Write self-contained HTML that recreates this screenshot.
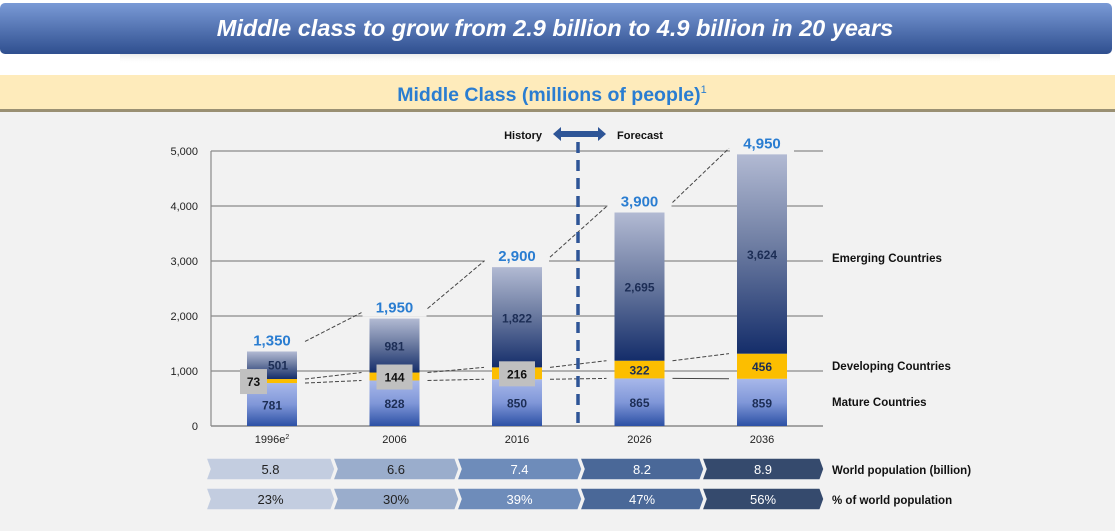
<!DOCTYPE html>
<html><head><meta charset="utf-8"><style>
body{margin:0;width:1115px;height:531px;overflow:hidden;background:#fff;font-family:"Liberation Sans",Arial,sans-serif}
svg{display:block}
</style></head><body>
<svg id="chart" width="1115" height="531" xmlns="http://www.w3.org/2000/svg">
<defs>
<linearGradient id="gTitle" x1="0" y1="0" x2="0" y2="1"><stop offset="0" stop-color="#7a9ad6"/><stop offset="1" stop-color="#2f4f8f"/></linearGradient>
<linearGradient id="gEm" x1="0" y1="0" x2="0" y2="1"><stop offset="0" stop-color="#b2bad3"/><stop offset="0.45" stop-color="#6f7ea3"/><stop offset="1" stop-color="#142d6a"/></linearGradient>
<linearGradient id="gMat" x1="0" y1="0" x2="0" y2="1"><stop offset="0" stop-color="#a8b8ea"/><stop offset="0.5" stop-color="#8097d8"/><stop offset="1" stop-color="#2c50a5"/></linearGradient>
<linearGradient id="gShadow" x1="0" y1="0" x2="0" y2="1"><stop offset="0" stop-color="#eaeaea"/><stop offset="1" stop-color="#fff" stop-opacity="0"/></linearGradient>
</defs>
<rect x="0" y="0" width="1115" height="531" fill="#fff"/>
<rect x="120" y="54" width="880" height="10" fill="url(#gShadow)"/>
<rect x="0" y="3" width="1112" height="51" rx="5" fill="url(#gTitle)"/>
<text x="555" y="36" text-anchor="middle" fill="#fff" font-size="23.5" font-weight="bold" font-style="italic">Middle class to grow from 2.9 billion to 4.9 billion in 20 years</text>
<rect x="0" y="75" width="1115" height="35" fill="#feebbb"/>
<rect x="0" y="109" width="1115" height="3" fill="#9a9073"/>
<text x="552" y="101" text-anchor="middle" fill="#2a7dd1" font-size="19.5" font-weight="bold">Middle Class (millions of people)<tspan font-size="11" dy="-8" font-weight="normal">1</tspan></text>
<rect x="0" y="112" width="1115" height="419" fill="#f2f2f2"/>
<g id="plot"></g>
</svg>
<script>
const years=['1996e','2006','2016','2026','2036'];
const mature=[781,828,850,865,859];
const developing=[73,144,216,322,456];
const emerging=[501,981,1822,2695,3624];
const totals=['1,350','1,950','2,900','3,900','4,950'];
const emergingLbl=['501','981','1,822','2,695','3,624'];
const yTicks=[0,1000,2000,3000,4000,5000];
const yTickLbl=['0','1,000','2,000','3,000','4,000','5,000'];
const worldPop=['5.8','6.6','7.4','8.2','8.9'];
const pctWorld=['23%','30%','39%','47%','56%'];

const NS='http://www.w3.org/2000/svg';
const g=document.getElementById('plot');
function mk(t,a,txt){const e=document.createElementNS(NS,t);for(const k in a)e.setAttribute(k,a[k]);if(txt!==undefined)e.textContent=txt;g.appendChild(e);return e;}
const x0=211,x1=823,y0=426,yPer=55/1000;
const y=v=>y0-v*yPer;
const bx=i=>247+i*122.5, bw=50;

yTicks.forEach((t,i)=>{
 if(t>0){const l=mk('line',{x1:x0,x2:x1,y1:y(t),y2:y(t),stroke:'#8a8a8a','stroke-width':1.2});
 }
 const tx=mk('text',{x:198,y:y(t)+4,'text-anchor':'end','font-size':11,fill:'#222'},yTickLbl[i]);
 
});
mk('line',{x1:x0,x2:x0,y1:y(5000),y2:y0,stroke:'#8a8a8a','stroke-width':1.2});
mk('line',{x1:x0,x2:x1,y1:y0,y2:y0,stroke:'#8a8a8a','stroke-width':1.5});

years.forEach((yr,i)=>{
 const X=bx(i);
 const m=mature[i],d=developing[i],e=emerging[i];
 let r=mk('rect',{x:X,y:y(m),width:bw,height:m*yPer,fill:'url(#gMat)'});
 
 r=mk('rect',{x:X,y:y(m+d),width:bw,height:d*yPer,fill:'#fcbe00'});
 
 r=mk('rect',{x:X,y:y(m+d+e),width:bw,height:e*yPer,fill:'url(#gEm)'});
 
 const cx=X+bw/2;
 let t=mk('text',{x:cx,y:y(m/2)+5,'text-anchor':'middle','font-size':12,'font-weight':'bold',fill:'#1c2d55'},m);
 
 if(i<3){
  const bxw=i==0?27:36, bxX=i==0?X-7:cx-18;
  const cy=y(m+d/2);
  mk('rect',{x:bxX,y:cy-12,width:bxw,height:25,fill:'#c0c0c0'});
  t=mk('text',{x:bxX+bxw/2,y:cy+5,'text-anchor':'middle','font-size':12,'font-weight':'bold',fill:'#111'},d);
 } else {
  t=mk('text',{x:cx,y:y(m+d/2)+5,'text-anchor':'middle','font-size':12,'font-weight':'bold',fill:'#1c2d55'},d);
 }
 
 const eTop=i==0?y(m+d+e)+18:y(m+d+e/2)+5;
 t=mk('text',{x:i==0?cx+6:cx,y:eTop,'text-anchor':'middle','font-size':12,'font-weight':'bold',fill:'#1c2d55'},emergingLbl[i]);
 
 const top=y(m+d+e);
 mk('rect',{x:cx-32,y:top-20,width:64,height:18,fill:'#f2f2f2'});
 t=mk('text',{x:cx,y:top-6,'text-anchor':'middle','font-size':15,'font-weight':'bold',fill:'#2a7dd1'},totals[i]);
 
 t=mk('text',{x:cx,y:443,'text-anchor':'middle','font-size':11,fill:'#222'},yr);
 if(i==0){const s=document.createElementNS(NS,'tspan');s.setAttribute('font-size','7');s.setAttribute('dy','-4');s.textContent='2';t.appendChild(s);}
 
 if(i<years.length-1){
  const nm=mature[i+1],nd=developing[i+1],ne=emerging[i+1];
  const a=X+bw+8,b=bx(i+1)-8;
  const lines=[[m+d+e,nm+nd+ne],[m+d,nm+nd],[m,nm]];
  lines.forEach((p,k)=>{
   const l=mk('line',{x1:a,x2:b,y1:y(p[0])-(k==0?10:0),y2:y(p[1])-(k==0?6:0),stroke:'#444','stroke-width':1,'stroke-dasharray':k==2&&i==3?'none':'4,2'});
   
  });
 }
});

let dv=mk('line',{x1:578,x2:578,y1:142,y2:426,stroke:'#2e5597','stroke-width':3.5,'stroke-dasharray':'11,7'});

let ar=mk('path',{d:'M553 134 L561 127 L561 131 L598 131 L598 127 L606 134 L598 141 L598 137 L561 137 L561 141 Z',fill:'#2e5597'});

let ht=mk('text',{x:542,y:139,'text-anchor':'end','font-size':11,'font-weight':'bold',fill:'#111'},'History');

ht=mk('text',{x:617,y:139,'font-size':11,'font-weight':'bold',fill:'#111'},'Forecast');


[['Emerging Countries',262],['Developing Countries',370],['Mature Countries',406]].forEach(p=>{
 const t=mk('text',{x:832,y:p[1],'font-size':11.5,'font-weight':'bold',fill:'#111'},p[0]);
 
});

const segX=[206,333,457,580,702], segW=[125,122,121,120,118];
const cols=['#c3cde0','#9aadcc','#6e8cba','#4a6898','#354a6d'];
const txtc=['#222','#222','#fff','#fff','#fff'];
[[worldPop,458,'World population (billion)'],[pctWorld,488,'% of world population']].forEach(row=>{
 const ry=row[1],h=22;
 row[0].forEach((v,i)=>{
  const X=segX[i],W=segW[i],n=4;
  const p=mk('path',{d:`M${X} ${ry} L${X+W} ${ry} L${X+W+n} ${ry+h/2} L${X+W} ${ry+h} L${X} ${ry+h} L${X+n} ${ry+h/2} Z`,fill:cols[i],stroke:'#f2f2f2','stroke-width':1.5});
  
  const t=mk('text',{x:X+W/2+2,y:ry+16,'text-anchor':'middle','font-size':13,fill:txtc[i]},v);
  
 });
 const t=mk('text',{x:832,y:ry+16,'font-size':11.5,'font-weight':'bold',fill:'#111'},row[2]);
 
});
</script>
</body></html>
